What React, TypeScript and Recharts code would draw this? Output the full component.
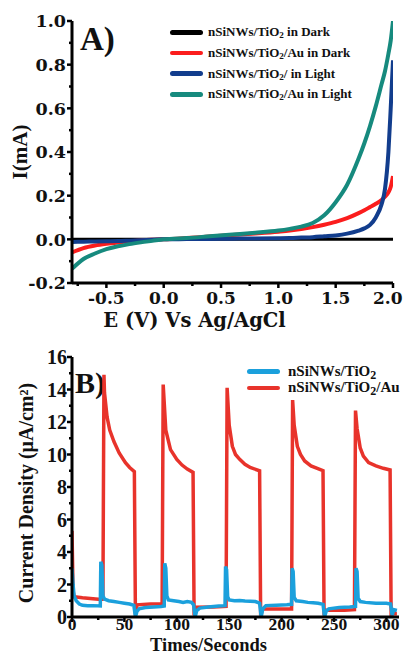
import { LineChart, Line, XAxis, YAxis, Legend } from 'recharts';

// ---- panel A: I-V curves ----
const ivVoltage = [-0.8, -0.7, -0.6, -0.5, -0.4, -0.3, -0.2, -0.1, 0, 0.2, 0.4, 0.6, 0.8, 1.0, 1.1, 1.2, 1.3, 1.4, 1.5, 1.6, 1.7, 1.75, 1.8, 1.85, 1.9, 1.93, 1.96, 1.98, 2.0];
const tio2Dark = [0, 0, 0, 0, 0, 0, 0, 0, 0, 0, 0, 0, 0, 0, 0, 0, 0, 0, 0, 0, 0, 0, 0, 0, 0, 0, 0, 0, 0];
const tio2AuDark = [-0.06, -0.04, -0.028, -0.02, -0.014, -0.009, -0.005, -0.002, 0, 0.006, 0.013, 0.02, 0.027, 0.035, 0.04, 0.047, 0.056, 0.067, 0.08, 0.097, 0.12, 0.133, 0.148, 0.163, 0.18, 0.195, 0.215, 0.24, 0.29];
const tio2Light = [-0.012, -0.011, -0.01, -0.009, -0.008, -0.006, -0.004, -0.002, 0, 0.001, 0.002, 0.003, 0.004, 0.005, 0.006, 0.008, 0.01, 0.014, 0.018, 0.026, 0.04, 0.05, 0.066, 0.1, 0.16, 0.23, 0.4, 0.6, 0.82];
const tio2AuLight = [-0.135, -0.09, -0.065, -0.045, -0.032, -0.022, -0.014, -0.007, 0, 0.006, 0.014, 0.022, 0.03, 0.04, 0.048, 0.058, 0.075, 0.11, 0.17, 0.25, 0.37, 0.44, 0.52, 0.61, 0.71, 0.77, 0.85, 0.91, 1.0];

const ivNames = ['nSiNWs/TiO2 in Dark', 'nSiNWs/TiO2/Au in Dark', 'nSiNWs/TiO2/ in Light', 'nSiNWs/TiO2/Au in Light'];
const ivColors = ['#000000', '#fb1d1d', '#123d8d', '#168a7e'];
const ivXTicks = [-0.75, -0.5, -0.25, 0, 0.25, 0.5, 0.75, 1.0, 1.25, 1.5, 1.75, 2.0];
const ivYTicks = [-0.2, -0.1, 0, 0.1, 0.2, 0.3, 0.4, 0.5, 0.6, 0.7, 0.8, 0.9, 1.0];

// ---- panel B: transient photocurrent ----
const tio2Time = [0, 1, 2, 4, 7, 10, 15, 20, 27, 27.5, 28.5, 29.5, 31, 35, 40, 45, 50, 55, 59, 60.5, 62, 64, 70, 78, 85, 88, 88.5, 89.5, 90.5, 92, 97, 102, 106, 110, 114, 116, 117.5, 119, 122, 130, 140, 146, 146.5, 147.5, 148.5, 150, 155, 160, 165, 170, 175, 179, 180.5, 182, 185, 195, 205, 209.5, 210, 211, 212, 214, 220, 225, 230, 235, 239.5, 241, 242.5, 245, 255, 265, 270.5, 271, 272, 273, 275, 280, 290, 300, 304, 305.5, 307, 310];
const tio2Current = [3.0, 2.0, 1.3, 1.0, 0.8, 0.72, 0.7, 0.7, 0.68, 3.4, 3.2, 1.3, 1.1, 1.0, 0.95, 0.9, 0.85, 0.8, 0.72, 0.0, 0.35, 0.5, 0.58, 0.62, 0.65, 0.68, 3.3, 3.0, 1.3, 1.05, 1.0, 0.95, 0.9, 0.95, 0.9, 0.75, 0.0, 0.4, 0.55, 0.62, 0.68, 0.7, 3.1, 2.9, 1.25, 1.05, 1.0, 1.02, 0.98, 0.97, 0.95, 0.85, 0.0, 0.5, 0.7, 0.72, 0.75, 0.78, 3.0, 2.8, 1.2, 1.0, 0.95, 0.9, 0.88, 0.85, 0.78, 0.0, 0.35, 0.5, 0.58, 0.62, 0.65, 3.0, 2.8, 1.15, 0.95, 0.9, 0.85, 0.85, 0.8, 0.1, 0.45, 0.4];
const auTime = [0, 1, 2, 10, 20, 28, 29.5, 30.5, 31, 33.5, 36, 40, 45, 51, 55, 59.5, 60.5, 62, 75, 86, 87, 89.5, 94, 100, 105, 110, 115.5, 116.5, 118, 135, 147, 148, 150, 153, 156, 160, 165, 170, 179, 180, 182, 200, 209.5, 210.5, 212, 215, 218, 222, 228, 234, 239.5, 240.5, 242, 260, 269.5, 270.5, 272, 275, 278, 283, 290, 297, 303.5, 304.5, 306, 310];
const auCurrent = [5.3, 1.6, 1.25, 1.18, 1.12, 1.08, 1.1, 14.9, 13.8, 12.3, 11.5, 10.8, 10.1, 9.5, 9.2, 8.95, 0.15, 0.75, 0.8, 0.82, 14.3, 11.5, 10.3, 9.7, 9.35, 9.1, 8.9, 0.1, 0.6, 0.62, 0.65, 14.1, 11.8, 10.5, 10.0, 9.7, 9.4, 9.2, 9.0, 0.1, 0.5, 0.5, 0.5, 13.35, 11.8, 10.5, 10.0, 9.6, 9.3, 9.15, 9.0, 0.1, 0.42, 0.42, 0.45, 12.7, 11.6, 10.4, 9.9, 9.5, 9.3, 9.15, 9.05, 0.1, 0.2, 0.2];

const ptNames = ['nSiNWs/TiO2', 'nSiNWs/TiO2/Au'];
const ptColors = ['#1ba0dc', '#e8332b'];
const ptXTicks = [0, 25, 50, 75, 100, 125, 150, 175, 200, 225, 250, 275, 300];
const ptYTicks = [0, 1, 2, 3, 4, 5, 6, 7, 8, 9, 10, 11, 12, 13, 14, 15, 16];

const ivData = ivVoltage.map((e, i) => ({
  e,
  dark: tio2Dark[i],
  darkAu: tio2AuDark[i],
  light: tio2Light[i],
  lightAu: tio2AuLight[i],
}));
const tio2Data = tio2Time.map((t, i) => ({ t, j: tio2Current[i] }));
const auData = auTime.map((t, i) => ({ t, j: auCurrent[i] }));

const SERIF = "'Liberation Serif', 'Times New Roman', serif";
const WIDE = "'DejaVu Serif', serif";

type TickOpts = {
  side: 'left' | 'bottom';
  step: number;
  digits: number;
  font: string;
  size: number;
  gap: number;
  charW: number; // rough glyph width, em
  maxX?: number;
};

function tickRenderer(o: TickOpts) {
  return (props: any) => {
    const { x, y, payload } = props;
    const v = payload.value as number;
    const major = Math.abs(v / o.step - Math.round(v / o.step)) < 1e-6;
    const len = major ? 5 : 3;
    const label = v.toFixed(o.digits);
    const txt = { fontFamily: o.font, fontSize: o.size, fontWeight: 700, fill: '#111' };
    if (o.side === 'left') {
      return (
        <g>
          <line x1={x - len} x2={x} y1={y} y2={y} stroke="#000" strokeWidth={2.5} />
          {major && (
            <text x={x - o.gap} y={y} dy="0.36em" textAnchor="end" {...txt}>
              {label}
            </text>
          )}
        </g>
      );
    }
    const half = (label.length * o.charW * o.size) / 2;
    const lx = o.maxX !== undefined ? Math.min(x, o.maxX - half) : x;
    return (
      <g>
        <line x1={x} x2={x} y1={y} y2={y + len} stroke="#000" strokeWidth={2.5} />
        {major && (
          <text x={lx} y={y + o.gap} textAnchor="middle" {...txt}>
            {label}
          </text>
        )}
      </g>
    );
  };
}

function Sub({ name, sub }: { name: string; sub: string }) {
  const parts = name.split('TiO2');
  return (
    <span>
      {parts.map((p, i) => (
        <span key={i}>
          {p}
          {i < parts.length - 1 && (
            <>
              TiO<sub style={{ fontSize: sub, verticalAlign: '-0.25em', lineHeight: 0 }}>2</sub>
            </>
          )}
        </span>
      ))}
    </span>
  );
}

function legendBox(names: string[], colors: string[], rowH: number, fontSize: number, gap: number, sub: string) {
  return () => (
    <div style={{ fontFamily: SERIF, fontWeight: 700, fontSize, color: '#111' }}>
      {names.map((n, i) => (
        <div key={n} style={{ display: 'flex', alignItems: 'center', height: rowH, whiteSpace: 'nowrap' }}>
          <span style={{ display: 'inline-block', width: 33, height: 4.5, borderRadius: 3, background: colors[i], marginRight: gap }} />
          <Sub name={n} sub={sub} />
        </div>
      ))}
    </div>
  );
}

const axisLine = { stroke: '#000', strokeWidth: 3 };

function IVChart() {
  return (
    <LineChart width={404} height={334} data={ivData} margin={{ top: 21, right: 11, bottom: 0, left: 0 }}>
      <XAxis
        dataKey="e"
        type="number"
        domain={[-0.8, 2.0]}
        ticks={ivXTicks}
        interval={0}
        allowDataOverflow
        height={51}
        axisLine={axisLine}
        tickLine={false}
        tickSize={0}
        tickMargin={0}
        tick={tickRenderer({ side: 'bottom', step: 0.5, digits: 1, font: WIDE, size: 17, gap: 21, charW: 0.6, maxX: 403 })}
        label={{ value: 'E (V) Vs Ag/AgCl', position: 'insideBottom', offset: 7, dx: -38, style: { fontFamily: WIDE, fontSize: 19.5, fontWeight: 700, fill: '#111' } }}
      />
      <XAxis xAxisId="top" orientation="top" type="number" domain={[-0.8, 2.0]} height={0} tick={false} tickLine={false} axisLine={axisLine} />
      <YAxis
        type="number"
        domain={[-0.2, 1.0]}
        ticks={ivYTicks}
        interval={0}
        allowDataOverflow
        width={72}
        axisLine={axisLine}
        tickLine={false}
        tickSize={0}
        tickMargin={0}
        tick={tickRenderer({ side: 'left', step: 0.2, digits: 1, font: WIDE, size: 17.5, gap: 6, charW: 0.6 })}
        label={{ value: 'I(mA)', angle: -90, position: 'insideLeft', offset: 20, style: { textAnchor: 'middle', fontFamily: SERIF, fontSize: 21, fontWeight: 700, fill: '#111' } }}
      />
      <YAxis yAxisId="right" orientation="right" type="number" domain={[-0.2, 1.0]} width={0} tick={false} tickLine={false} axisLine={axisLine} />
      <Legend
        layout="vertical"
        align="center"
        verticalAlign="middle"
        content={legendBox(ivNames, ivColors, 20.7, 13, 5, '0.7em')}
        wrapperStyle={{ left: 170, top: 22, width: 225 }}
      />
      <Line dataKey="dark" name={ivNames[0]} stroke={ivColors[0]} strokeWidth={3} dot={false} type="linear" isAnimationActive={false} />
      <Line dataKey="darkAu" name={ivNames[1]} stroke={ivColors[1]} strokeWidth={4} dot={false} type="monotone" isAnimationActive={false} />
      <Line dataKey="light" name={ivNames[2]} stroke={ivColors[2]} strokeWidth={4} dot={false} type="monotone" isAnimationActive={false} />
      <Line dataKey="lightAu" name={ivNames[3]} stroke={ivColors[3]} strokeWidth={4} dot={false} type="monotone" isAnimationActive={false} />
      <text x={80} y={50} style={{ fontFamily: SERIF, fontSize: 33, fontWeight: 700, fill: '#111' }}>A)</text>
    </LineChart>
  );
}

function PhotoChart() {
  return (
    <LineChart width={404} height={322} margin={{ top: 23, right: 5, bottom: 0, left: 0 }}>
      <XAxis
        dataKey="t"
        type="number"
        domain={[0, 312]}
        ticks={ptXTicks}
        interval={0}
        allowDataOverflow
        height={39}
        axisLine={axisLine}
        tickLine={false}
        tickSize={0}
        tickMargin={0}
        tick={tickRenderer({ side: 'bottom', step: 50, digits: 0, font: SERIF, size: 17.5, gap: 13, charW: 0.5, maxX: 403 })}
        label={{ value: 'Times/Seconds', position: 'insideBottom', offset: 5, dx: -27, style: { fontFamily: SERIF, fontSize: 18.5, fontWeight: 700, fill: '#111' } }}
      />
      <XAxis xAxisId="top" orientation="top" type="number" domain={[0, 312]} height={0} tick={false} tickLine={false} axisLine={axisLine} />
      <YAxis
        type="number"
        domain={[0, 16]}
        ticks={ptYTicks}
        interval={0}
        allowDataOverflow
        width={72}
        axisLine={axisLine}
        tickLine={false}
        tickSize={0}
        tickMargin={0}
        tick={tickRenderer({ side: 'left', step: 2, digits: 0, font: SERIF, size: 20, gap: 5, charW: 0.5 })}
        label={{ value: 'Current Density (μA/cm²)', angle: -90, position: 'insideLeft', offset: 26, dy: 6, style: { textAnchor: 'middle', fontFamily: SERIF, fontSize: 20, fontWeight: 700, fill: '#111' } }}
      />
      <YAxis yAxisId="right" orientation="right" type="number" domain={[0, 16]} width={0} tick={false} tickLine={false} axisLine={axisLine} />
      <Legend
        layout="vertical"
        align="center"
        verticalAlign="middle"
        content={legendBox(ptNames, ptColors, 16.5, 15, 8, '0.8em')}
        wrapperStyle={{ left: 247, top: 29, width: 155 }}
      />
      <text x={75} y={59} style={{ fontFamily: SERIF, fontSize: 30, fontWeight: 700, fill: '#111' }}>B)</text>
      <Line data={auData} dataKey="j" name={ptNames[1]} stroke={ptColors[1]} strokeWidth={3.5} dot={false} type="linear" isAnimationActive={false} />
      <Line data={tio2Data} dataKey="j" name={ptNames[0]} stroke={ptColors[0]} strokeWidth={3.5} dot={false} type="linear" isAnimationActive={false} />
    </LineChart>
  );
}

export default function App() {
  return (
    <div style={{ position: 'absolute', left: 0, top: 0, width: 404, height: 656, background: '#fff' }}>
      <IVChart />
      <PhotoChart />
    </div>
  );
}
